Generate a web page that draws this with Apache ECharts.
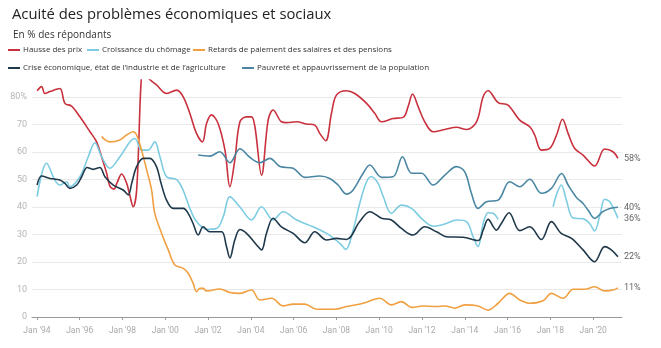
<!DOCTYPE html>
<html><head><meta charset="utf-8">
<script src="https://cdn.jsdelivr.net/npm/echarts@6/dist/echarts.min.js"></script>
<style>html,body{margin:0;padding:0;background:#fff}#c{width:661px;height:348px}</style>
</head><body><div id="c"></div>
<script>
const titleText = "Acuité des problèmes économiques et sociaux";
const subtitleText = "En % des répondants";
const seriesNames = ["Hausse des prix", "Croissance du chômage", "Retards de paiement des salaires et des pensions", "Crise économique, état de l’industrie et de l’agriculture", "Pauvreté et appauvrissement de la population"];
const seriesColors = ["#c8313d", "#7dcce2", "#f0a040", "#1f394b", "#4a87a3"];
const xTickYears = [1994,1996,1998,2000,2002,2004,2006,2008,2010,2012,2014,2016,2018,2020];

const hausseDesPrix = [[1994.01,82.3],[1994.22,83.8],[1994.37,81.3],[1994.61,82],[1995.07,83.1],[1995.31,77.7],[1995.62,76.7],[1996.01,72.8],[1996.48,67.4],[1996.79,63.7],[1997.02,58.3],[1997.26,52.3],[1997.41,47.6],[1997.6,46.5],[1997.74,48.7],[1997.96,52],[1998.2,48.5],[1998.35,44],[1998.5,40.1],[1998.66,46],[1998.97,90],[1999.2,87],[1999.59,84.4],[2000.06,81.3],[2000.53,82.5],[2000.84,80.1],[2001.15,74],[2001.46,66.8],[2001.74,63.7],[2001.93,70.4],[2002.16,73.5],[2002.47,70.4],[2002.79,60.7],[2003.02,47.4],[2003.25,57.1],[2003.49,71],[2003.8,72.8],[2004.03,72.8],[2004.19,69.2],[2004.5,51.6],[2004.81,71.6],[2005.04,75.3],[2005.43,71],[2005.67,70.7],[2006.14,71],[2006.6,70.2],[2006.99,69.8],[2007.22,66.8],[2007.5,64.1],[2007.77,74.1],[2008.0,80.7],[2008.47,82.3],[2008.86,81.3],[2009.41,77.7],[2009.79,74.1],[2010.11,71],[2010.65,72.2],[2011.12,72.6],[2011.35,76.5],[2011.56,81.1],[2011.82,76.5],[2012.13,71],[2012.52,67.4],[2013.07,68.2],[2013.61,69],[2014.08,68.2],[2014.55,71],[2014.86,80.1],[2015.09,82.3],[2015.56,78],[2016.02,77.1],[2016.57,71.6],[2017.04,69.2],[2017.27,66.2],[2017.58,60.7],[2017.97,61.3],[2018.29,66.2],[2018.57,71.9],[2018.83,66.8],[2019.14,61.3],[2019.53,58.9],[2020.07,54.9],[2020.54,61.1],[2020.93,60.1],[2021.16,57.7]];

const croissanceChomage = [[1994.01,43.8],[1994.45,55.9],[1994.84,49.8],[1995.07,48],[1995.39,49.2],[1995.54,47.4],[1996.01,51],[1996.4,58.3],[1996.71,63.4],[1997.02,58.3],[1997.41,54.1],[1997.88,58.3],[1998.35,63.7],[1998.58,64.9],[1998.89,60.7],[1999.2,60.7],[1999.51,63.7],[1999.75,58.3],[2000.06,51],[2000.53,50],[2000.84,46],[2001.15,39.5],[2001.46,34.7],[2001.93,31.9],[2002.4,32.2],[2002.71,36.5],[2003.02,43.8],[2003.49,40],[2004.03,35.3],[2004.5,40.1],[2005.04,35.3],[2005.51,38.3],[2006.14,35.3],[2006.91,32.8],[2007.54,30.4],[2008.16,26.8],[2008.44,24.6],[2008.78,31.6],[2009.09,41.3],[2009.41,49.2],[2009.64,51],[2009.95,48.6],[2010.18,44],[2010.57,37.7],[2011.04,40.7],[2011.51,39.5],[2012.05,35.3],[2012.52,33],[2013.14,34],[2013.61,35.3],[2014.08,34.7],[2014.39,29.2],[2014.62,25.6],[2014.86,34],[2015.09,37.9],[2015.32,37.7],[2015.56,35.5],[2016.8,null],[2018.13,40.1],[2018.31,45],[2018.51,48],[2018.75,42.5],[2019.06,36],[2019.53,35.7],[2019.84,34],[2020.07,31.3],[2020.33,37.5],[2020.54,42.8],[2020.78,41.9],[2021.16,35.9]];

const retardsPaiement = [[1997.02,65.6],[1997.41,63.7],[1997.88,64.4],[1998.19,66.2],[1998.5,67.4],[1998.66,66.2],[1998.89,60.7],[1999.13,53.5],[1999.36,46.2],[1999.51,37.7],[1999.83,30.4],[2000.14,24.4],[2000.45,18.9],[2000.84,17.7],[2001.07,15.9],[2001.3,12.3],[2001.46,9.2],[2001.62,10.4],[2001.77,10.4],[2001.93,9.5],[2002.55,10.2],[2003.02,8.9],[2003.49,8.6],[2004.03,9.8],[2004.42,6.2],[2004.97,6.8],[2005.51,4],[2005.98,4.7],[2006.52,4.7],[2007.07,2.8],[2007.93,2.8],[2008.47,3.8],[2009.25,5],[2010.03,6.8],[2010.57,4.4],[2011.04,5.6],[2011.51,3.5],[2012.05,4],[2012.68,3.8],[2013.07,4],[2013.53,3.2],[2014.0,4.4],[2014.62,4],[2015.09,2.5],[2015.56,5],[2016.1,8.6],[2016.57,6.2],[2017.04,5],[2017.66,5.9],[2018.05,8.6],[2018.6,6.8],[2019.07,10.1],[2019.61,10.1],[2020.07,11],[2020.54,9.5],[2020.93,9.8],[2021.16,10.6]];

const criseEconomique = [[1994.01,48],[1994.22,51.3],[1994.61,50.4],[1995.07,49.8],[1995.31,48.6],[1995.54,46.8],[1995.86,48],[1996.09,51],[1996.35,54.4],[1996.63,53.7],[1996.94,54.4],[1997.18,51],[1997.57,48],[1998.03,46.2],[1998.27,44.4],[1998.43,48.6],[1998.66,54.7],[1998.97,57.7],[1999.28,57.7],[1999.59,54.7],[1999.79,49],[2000.06,42.5],[2000.37,39.5],[2000.84,39.5],[2001.07,37.7],[2001.3,34],[2001.54,29.8],[2001.77,32.8],[2002.08,31],[2002.63,31],[2002.86,25.6],[2003.02,21.5],[2003.25,28],[2003.49,31.8],[2003.8,30.4],[2004.27,26.2],[2004.5,24.4],[2004.73,30.4],[2005.04,35.9],[2005.43,32.8],[2005.98,30.4],[2006.52,27],[2006.99,31],[2007.54,28],[2008.0,28.6],[2008.47,28.2],[2009.09,34.7],[2009.56,38.3],[2010.11,35.9],[2010.57,35.3],[2011.04,32.2],[2011.58,29.8],[2012.13,32.8],[2012.68,31],[2013.14,29.2],[2013.92,29],[2014.62,27.8],[2014.86,31.6],[2015.09,35.5],[2015.48,31.6],[2015.71,34],[2016.07,37.9],[2016.57,31.4],[2017.04,32.8],[2017.58,28.2],[2018.05,34.7],[2018.51,30.4],[2018.99,28.6],[2019.53,24.4],[2020.07,20.1],[2020.54,25.6],[2020.85,24.4],[2021.16,21.9]];

const pauvrete = [[2001.54,58.9],[2002.08,58.5],[2002.55,60.1],[2003.02,56.1],[2003.49,61.2],[2003.95,58.1],[2004.42,56.1],[2004.89,57.7],[2005.36,54.7],[2005.98,54.1],[2006.52,50.8],[2007.22,51.3],[2007.69,50.4],[2008.08,48],[2008.47,44.7],[2008.78,46.2],[2009.25,52.3],[2009.56,55.3],[2010.11,50.8],[2010.65,51],[2011.09,58.3],[2011.51,52.3],[2011.98,52.3],[2012.52,48],[2013.07,51.6],[2013.61,54.7],[2014.0,52.8],[2014.31,45],[2014.62,39.5],[2015.01,41.9],[2015.56,42.5],[2016.1,49.2],[2016.57,47.4],[2017.04,50.1],[2017.58,45],[2018.05,46.8],[2018.53,52.2],[2018.83,48],[2019.22,43.5],[2019.53,41.3],[2019.76,38.9],[2020.07,35.9],[2020.45,38.3],[2020.78,39.5],[2021.16,39.9]];

const allData = [hausseDesPrix, croissanceChomage, retardsPaiement, criseEconomique, pauvrete];

const X_MIN = 1993.77, X_MAX = 2021.35;
const chart = echarts.init(document.getElementById('c'), null, {renderer: 'canvas'});
const font = "'Open Sans', sans-serif";
const axisFont = "Roboto, sans-serif";

// legend placement: [left, top] per item
const legendPlaces = [[8, 46], [87, 46], [193, 46], [8, 64], [242, 64]];

chart.setOption({
  animation: false,
  backgroundColor: '#fff',
  title: [
    {text: titleText, left: 7, top: 2, textStyle: {fontFamily: font, fontSize: 14.8, fontWeight: 'normal', color: '#222'}},
    {text: subtitleText, left: 8, top: 25, textStyle: {fontFamily: font, fontSize: 10, fontWeight: 'normal', color: '#333'}}
  ],
  legend: seriesNames.map((n, i) => ({
    data: [n], left: legendPlaces[i][0], top: legendPlaces[i][1], padding: 0, itemWidth: 12, itemHeight: 2, icon: 'rect',
    textStyle: {fontFamily: font, fontSize: 8, color: '#333', padding: [0, 0, 0, -2]}
  })),
  grid: [
    {left: 32, right: 39, top: 97, bottom: 31},
    {left: 32, right: 39, top: 80, bottom: 31}
  ],
  xAxis: [
    {gridIndex: 0, type: 'value', min: X_MIN, max: X_MAX, show: false},
    {gridIndex: 1, type: 'value', min: X_MIN, max: X_MAX,
     axisLine: {show: true, lineStyle: {color: '#999', width: 1}},
     axisTick: {show: true, customValues: xTickYears, length: 3, lineStyle: {color: '#999'}},
     axisLabel: {customValues: xTickYears, formatter: v => "Jan '" + String(Math.round(v)).slice(2), fontFamily: axisFont, fontSize: 8.5, color: '#aaa', margin: 9},
     splitLine: {show: false}}
  ],
  yAxis: [
    {gridIndex: 0, type: 'value', min: 0, max: 80, interval: 10,
     axisLine: {show: false}, axisTick: {show: false},
     axisLabel: {formatter: v => v === 80 ? '80%' : String(v), fontFamily: axisFont, fontSize: 9, color: '#b5b5b5', margin: 5},
     splitLine: {show: true, lineStyle: {color: '#e9e9e9', width: 1}}},
    {gridIndex: 1, type: 'value', min: 0, max: 86.2, show: false}
  ],
  series: allData.map((d, i) => ({
    name: seriesNames[i], type: 'line', xAxisIndex: 1, yAxisIndex: 1,
    data: d, showSymbol: false, smooth: 0.35, connectNulls: false, clip: true,
    color: seriesColors[i],
    lineStyle: {width: 1.6, color: seriesColors[i]},
    endLabel: {show: true, distance: 6, formatter: p => Math.round(p.value[1]) + '%', fontFamily: axisFont, fontSize: 9, color: '#666'}
  }))
});
</script></body></html>
